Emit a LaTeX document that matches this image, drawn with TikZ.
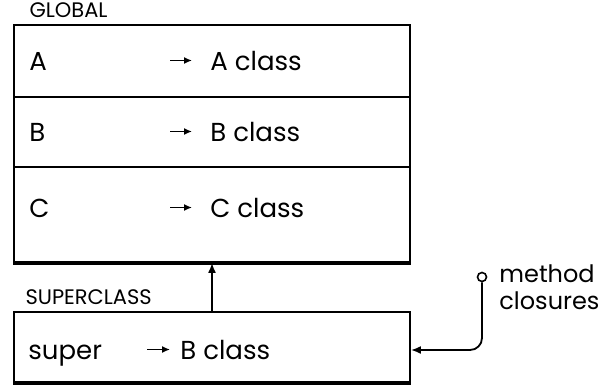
\documentclass[tikz,border=0pt]{standalone}
\usepackage{fontspec}
\setmainfont{Poppins}
\usepackage{tikz}
\usetikzlibrary{
	arrows.meta,
	positioning,
	calc
}

\begin{document}
\begin{tikzpicture}[
				x=0.5pt, y=-0.5pt,
				frame/.style={
					rectangle, draw, line width=0.9pt,
					minimum width=198pt, inner sep=0pt
				},
				tag/.style={
					inner sep=0pt, font=\fontsize{10.5}{12}\selectfont
				},
				entry/.style={
					anchor=base west, inner sep=0pt, font=\fontsize{13}{15}\selectfont
				},
				ptr/.style={-{Latex[length=4pt, width=3.5pt]}, line width=0.7pt, shorten >=9pt},
				arrow/.style={-{Latex[length=5pt, width=4pt]}, line width=0.9pt},
				]
				\useasboundingbox (0,0) rectangle (603,390);
				
				%global table
				\node[frame, minimum height=118.5pt] (global) at (212,143.5) {};
				\node[tag, anchor=south west, xshift=8pt, yshift=3pt] (globaltag) at (global.north west) {GLOBAL};
				\draw[line width=0.8pt] (global.west |- 0,97) -- (global.east |- 0,97);
				\draw[line width=0.8pt] (global.west |- 0,167) -- (global.east |- 0,167);
				\draw[line width=1.6pt] (global.south west) -- (global.south east);
				
				%first row
				\node[entry] (ka) at (29,70) {A};
				\node[entry] (va) at (210,70) {A class};
				\draw[ptr] ([xshift=-20pt]va.west) -- (va.west);
				
				%2. row
				\node[entry] (kb) at (29,141) {B};
				\node[entry] (vb) at (210,141) {B class};
				\draw[ptr] ([xshift=-20pt]vb.west) -- (vb.west);
				
				%3. row
				\node[entry] (kc) at (29,217) {C};
				\node[entry] (vc) at (210,217) {C class};
				\draw[ptr] ([xshift=-20pt]vc.west) -- (vc.west);
				
				%superclass table
				\node[frame, minimum height=35pt] (super) at (212,347) {};
				\node[tag, anchor=south west, xshift=6pt, yshift=3pt] (supertag) at (super.north west) {SUPERCLASS};
				\draw[line width=1.6pt] (super.south west) -- (super.south east);
				\draw[arrow] (super.north) -- (global.south);
				
				\node[entry] (ks) at (28,359) {super};
				\node[entry] (vs) at (180,359) {B class};
				\draw[ptr, shorten >=5pt] ([xshift=-16.5pt]vs.west) -- (vs.west);
				
				%method closures
				\node[circle, draw, line width=0.8pt, fill=white, minimum size=4.5pt, inner sep=0pt] (mc) at (482,277) {};
				\node[entry, align=left, font=\fontsize{12}{13.5}\selectfont] (mctext) at (499,309) {method\\closures};
				\draw[arrow, rounded corners=6pt] (mc.south) |- ([yshift=-1.5pt]super.east);
			\end{tikzpicture}
\end{document}
